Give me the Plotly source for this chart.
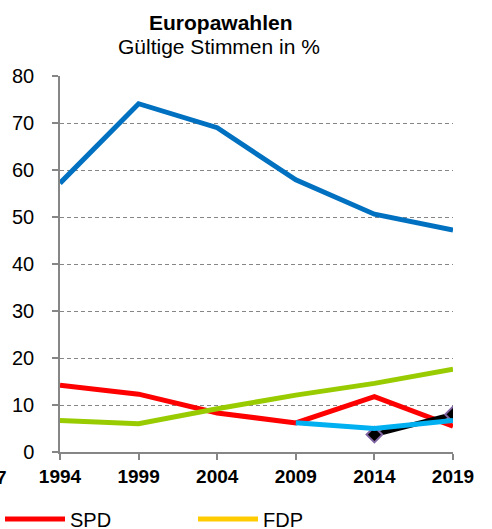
import plotly.graph_objects as go

years = [1994, 1999, 2004, 2009, 2014, 2019]
cdu = [57.2, 74.1, 69.0, 57.9, 50.6, 47.2]
spd = [14.2, 12.3, 8.3, 6.2, 11.8, 5.5]
gruene = [6.7, 6.0, 9.2, 12.1, 14.6, 17.6]
fdp = [None, None, None, None, None, None]
other = [None, None, None, 6.2, 5.0, 6.7]
afd = [None, None, None, None, 3.7, 8.0]
y_ticks = [0, 10, 20, 30, 40, 50, 60, 70, 80]

W, H = 492, 529
ML, MR, MT, MB = 60, 39, 76, 77
FONT = "Arial, Liberation Sans, sans-serif"
LW = 5

fig = go.Figure()
fig.add_trace(go.Scatter(x=years, y=spd, name="SPD", mode="lines", legend="legend",
                         line=dict(color="#FF0000", width=LW)))
fig.add_trace(go.Scatter(x=years, y=fdp, name="FDP", mode="lines", legend="legend2",
                         line=dict(color="#FFCC00", width=LW)))
fig.add_trace(go.Scatter(x=years, y=cdu, name="CDU", mode="lines", showlegend=False,
                         line=dict(color="#0070C0", width=LW)))
fig.add_trace(go.Scatter(x=years, y=gruene, name="Grüne", mode="lines", showlegend=False,
                         line=dict(color="#99CC00", width=LW)))
fig.add_trace(go.Scatter(x=years, y=afd, name="AfD", mode="lines+markers", showlegend=False,
                         line=dict(color="#000000", width=LW),
                         marker=dict(symbol="diamond", size=12, color="#000000",
                                     line=dict(color="#8064A2", width=2))))
fig.add_trace(go.Scatter(x=years, y=other, name="Sonstige", mode="lines", showlegend=False,
                         line=dict(color="#00B0F0", width=LW)))


def cx(px):
    return px / W


def cy(py):
    return 1 - py / H


def leg(xpix):
    return dict(orientation="h", xref="container", yref="container",
                x=cx(xpix), xanchor="left", y=cy(519), yanchor="middle",
                font=dict(size=20, family=FONT, color="#000000"),
                itemwidth=60, bgcolor="rgba(0,0,0,0)")


fig.update_layout(
    width=W, height=H,
    margin=dict(l=ML, r=MR, t=MT, b=MB, autoexpand=False),
    paper_bgcolor="white", plot_bgcolor="white",
    font=dict(family=FONT, size=20, color="#000000"),
    showlegend=True,
    legend=leg(-5),
    legend2=leg(193),
    annotations=[
        dict(text="<b>Europawahlen</b>", x=221, y=22, xref="paper", yref="paper",
             showarrow=False, font=dict(size=21, family=FONT)),
        dict(text="Gültige Stimmen in %", x=219, y=47, xref="paper", yref="paper",
             showarrow=False, font=dict(size=21, family=FONT)),
        dict(text="<b>7</b>", x=9, y=478, xanchor="right", showarrow=False,
             font=dict(size=19, family=FONT)),
    ],
)
pw, ph = W - ML - MR, H - MT - MB
new = []
for a in fig.layout.annotations:
    new.append(dict(text=a.text, x=(a.x - ML) / pw, y=1 - (a.y - MT) / ph,
                    xref="paper", yref="paper", showarrow=False, font=a.font,
                    xanchor=a.xanchor or "center", yanchor="middle"))
fig.update_layout(annotations=new)

fig.update_xaxes(range=[1994, 2019], tickvals=years, ticktext=[str(y) for y in years],
                 showgrid=False, showline=True, linecolor="#868686", linewidth=1.5,
                 ticks="outside", ticklen=6, tickcolor="#868686", tickwidth=1.5,
                 tickfont=dict(size=19, family=FONT, weight="bold"), ticklabelstandoff=0,
                 zeroline=False, automargin=False)
fig.update_yaxes(range=[0, 80], tickvals=y_ticks, showgrid=True, gridcolor="#868686",
                 griddash="4px,3px", gridwidth=1, showline=True, linecolor="#868686",
                 linewidth=1.5, ticks="outside", ticklen=6, tickcolor="#868686",
                 tickwidth=1.5, tickfont=dict(size=20, family=FONT), zeroline=False,
                 ticklabelstandoff=14, automargin=False)
fig.write_html("out.html", config={"displayModeBar": False},
               post_script="document.body.style.margin='0px';document.body.style.overflow='hidden';")
